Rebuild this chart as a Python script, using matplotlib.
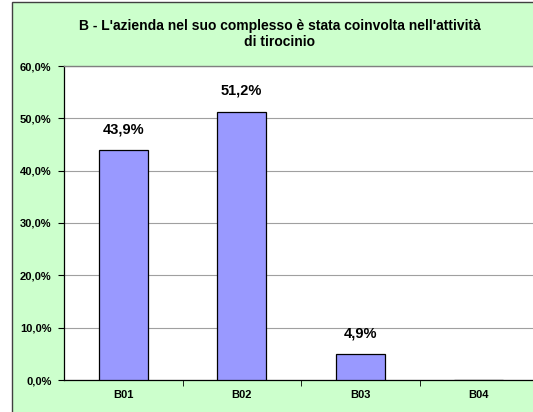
import matplotlib
matplotlib.use("Agg")
import matplotlib.pyplot as plt
from matplotlib.patches import Rectangle

categories = ["B01", "B02", "B03", "B04"]
values = [43.9, 51.2, 4.9, 0.0]
yticks = [0, 10, 20, 30, 40, 50, 60]
title = "B - L'azienda nel suo complesso è stata coinvolta nell'attività\ndi tirocinio"

plt.rcParams['font.family'] = ['Liberation Sans', 'DejaVu Sans']

fig = plt.figure(figsize=(5.33, 4.12), dpi=100)
fig.patch.set_facecolor("white")
bg = Rectangle((12/533, -0.02), 1.05, 1 - 2/412 + 0.02, transform=fig.transFigure,
               facecolor="#CCFFCC", edgecolor="#404040", linewidth=1.0, zorder=-10)
fig.patches.append(bg)

ax = fig.add_axes([64/533, 1 - 380/412, 474/533, 314/412])
ax.set_zorder(1)
ax.set_facecolor("white")
x = list(range(len(categories)))
ax.bar(x, values, width=0.41, color="#9999FF", edgecolor="black", linewidth=0.9, zorder=3)
for xi, v in zip(x, values):
    if v > 0:
        ax.text(xi, v + 2.7, f"{v:.1f}%".replace(".", ","), ha="center", va="bottom",
                fontsize=10.5, fontweight="bold")
ax.set_xlim(-0.5, len(categories) - 0.5)
ax.set_ylim(0, 60)
ax.set_yticks(yticks)
ax.set_yticklabels([f"{t:.1f}%".replace(".", ",") for t in yticks], fontsize=8, fontweight="bold")
ax.yaxis.grid(True, color="#A0A0A0", linewidth=0.8, zorder=0)
ax.set_axisbelow(True)
ax.set_xticks(x)
ax.set_xticklabels(categories, fontsize=8, fontweight="bold")
ax.tick_params(axis="x", length=0, pad=7)
ax.set_xticks([i + 0.5 for i in x[:-1]], minor=True)
ax.tick_params(axis="x", which="minor", length=4, direction="out")
ax.tick_params(axis="y", length=4, direction="out", pad=5)
for s in ["top", "right"]:
    ax.spines[s].set_visible(False)
ax.spines["left"].set_color("black")
ax.spines["bottom"].set_color("black")
ax.spines["left"].set_linewidth(0.9)
ax.spines["bottom"].set_linewidth(0.9)
ax.plot([0, 1], [1, 1], transform=ax.transAxes, color="#808080", linewidth=1.0, clip_on=False, zorder=4)

fig.text(280/533, 1 - 34/412, title, ha="center", va="center", fontsize=10,
         fontweight="bold", linespacing=1.2)

fig.savefig("out.png", dpi=100, facecolor=fig.get_facecolor())
